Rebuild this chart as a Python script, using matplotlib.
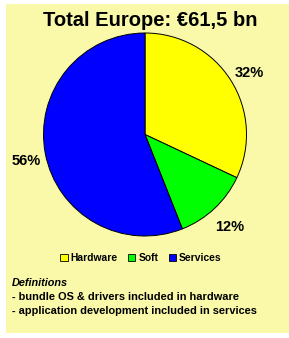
import matplotlib
matplotlib.use('Agg')
import matplotlib.pyplot as plt
from matplotlib.patches import Patch, Rectangle
from matplotlib.transforms import offset_copy

# Données
categories = ['Hardware', 'Soft', 'Services']
shares = [32, 12, 56]
colors = ['#FFFF00', '#00FF00', '#0000FF']
title = 'Total Europe: €61,5 bn'
notes = ['- bundle OS & drivers included in hardware',
         '- application development included in services']

plt.rcParams['font.family'] = ['Liberation Sans', 'DejaVu Sans']

W, H = 289, 338
fig = plt.figure(figsize=(W / 100, H / 100), dpi=100)
fig.patch.set_facecolor('white')

# fond jaune du cadre
fig.patches.append(Rectangle((6 / W, 5 / H), 1 - 6 / W, 1 - 9 / H,
                             transform=fig.transFigure, facecolor='#F9F9A9',
                             edgecolor='none', zorder=-10))

# camembert : centre (145, 134.5), rayon 101.5 px
cx, cy, r = 145, 134.5, 101.5
ax = fig.add_axes([(cx - r) / W, (H - cy - r) / H, 2 * r / W, 2 * r / H])
ax.set_zorder(5)
wedges, texts = ax.pie(shares, colors=colors, startangle=90, counterclock=False,
                       labels=[f'{s}%' for s in shares], labeldistance=1.2,
                       wedgeprops=dict(edgecolor='black', linewidth=0.7),
                       textprops=dict(fontsize=10.5, fontweight='bold'))
for t in texts:
    t.set_ha('center')
    t.set_va('center')
    t.set_clip_on(False)
    # étiquettes un peu plus bas, comme dans l'original
    t.set_transform(offset_copy(t.get_transform(), fig=fig, x=1, y=-4, units='dots'))
ax.set_xlim(-1, 1)
ax.set_ylim(-1, 1)
ax.axis('off')

fig.text(150 / W, 1 - 20 / H, title, ha='center', va='center',
         fontsize=14.5, fontweight='bold')

handles = [Patch(facecolor=c, edgecolor='black', linewidth=0.6, label=n)
           for c, n in zip(colors, categories)]
fig.legend(handles=handles, loc='center', bbox_to_anchor=(141 / W, 1 - 258 / H),
           ncol=3, frameon=False, handlelength=0.7, handleheight=0.7,
           handletextpad=0.3, columnspacing=1.0,
           prop=dict(size=7.4, weight='bold'))

fig.text(12 / W, 1 - 283 / H, 'Definitions', ha='left', va='center',
         fontsize=7.8, fontweight='bold', style='italic')
for i, line in enumerate(notes):
    fig.text(12 / W, 1 - (297 + 14 * i) / H, line, ha='left', va='center',
             fontsize=7.9, fontweight='bold')

fig.savefig('out.png', dpi=100)
